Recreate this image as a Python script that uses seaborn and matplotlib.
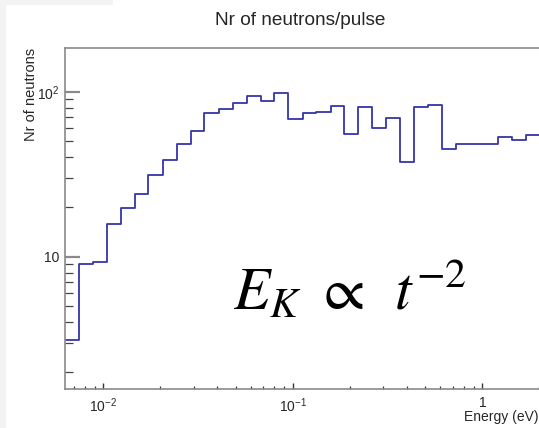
import matplotlib
matplotlib.use("Agg")
import matplotlib.pyplot as plt
import seaborn as sns
import numpy as np
import pandas as pd
from matplotlib.patches import Rectangle
from matplotlib.ticker import LogLocator, FixedLocator, NullFormatter

# ---- data ----
bin_edges_ev = [0.00628, 0.00747, 0.00886, 0.01042, 0.01236, 0.01476, 0.01728,
                0.02059, 0.02439, 0.02903, 0.03412, 0.04064, 0.04817, 0.05733,
                0.0677, 0.07985, 0.09469, 0.1128, 0.133, 0.1585, 0.187, 0.2208,
                0.2618, 0.3113, 0.3693, 0.4361, 0.517, 0.6152, 0.7293, 0.8612,
                1.017, 1.21, 1.429, 1.694, 2.04]
neutron_counts = [3.14, 9.0, 9.25, 15.8, 19.8, 23.9, 31.3, 38.7, 48.2, 57.8,
                  74.3, 78.6, 85.8, 93.8, 88.2, 97.8, 68.6, 74.0, 75.7, 81.8,
                  55.2, 81.1, 60.5, 69.3, 37.5, 81.1, 82.8, 45.0, 47.9, 47.9,
                  48.4, 52.9, 50.9, 54.7]
xtick_values = [0.01, 0.1, 1.0]
xtick_labels = [r"$10^{-2}$", r"$10^{-1}$", "1"]
ytick_values = [10, 100]
ytick_labels = ["10", r"$10^{2}$"]
title_text = "Nr of neutrons/pulse"
xlabel_text = "Energy (eV)"
ylabel_text = "Nr of neutrons"
formula_text = r"$E_K\ \propto\ \,t^{-2}$"

# ---- style ----
sns.set_style("white")
plt.rcParams["font.family"] = ["Liberation Sans", "DejaVu Sans"]
plt.rcParams["mathtext.fontset"] = "custom"
plt.rcParams["mathtext.rm"] = "Liberation Sans"
plt.rcParams["mathtext.it"] = "Liberation Sans:italic"
plt.rcParams["mathtext.bf"] = "Liberation Sans:bold"

W, H = 539, 428
fig = plt.figure(figsize=(W / 100, H / 100), dpi=100)
fig.patch.set_facecolor("white")
fig.patches.append(Rectangle((0, 0), 6 / W, 1, transform=fig.transFigure,
                             facecolor="#f3f3f3", edgecolor="none", zorder=-5))
fig.patches.append(Rectangle((0, 1 - 5 / H), 113 / W, 5 / H, transform=fig.transFigure,
                             facecolor="#f3f3f3", edgecolor="none", zorder=-5))

left_px, right_px, top_px, bot_px = 65, 541, 47.5, 389
ax = fig.add_axes([left_px / W, 1 - bot_px / H,
                   (right_px - left_px) / W, (bot_px - top_px) / H])
ax.set_facecolor("white")

df = pd.DataFrame({"energy": bin_edges_ev,
                   "count": neutron_counts + [neutron_counts[-1]]})
sns.lineplot(data=df, x="energy", y="count", ax=ax, estimator=None,
             drawstyle="steps-post", color="#3535a8", linewidth=1.3)

ax.set_xscale("log")
ax.set_yscale("log")
ax.set_xlim(bin_edges_ev[0], bin_edges_ev[-1])
ax.set_ylim(1.578, 185.4)
ax.set_xlabel("")
ax.set_ylabel("")

for side in ["left", "bottom", "top"]:
    ax.spines[side].set_visible(True)
    ax.spines[side].set_color("#8a8a8a")
    ax.spines[side].set_linewidth(1.2)
ax.spines["right"].set_visible(False)

ax.xaxis.set_major_locator(FixedLocator(xtick_values))
ax.set_xticklabels(xtick_labels)
ax.xaxis.set_minor_locator(LogLocator(base=10, subs=np.arange(2, 10)))
ax.xaxis.set_minor_formatter(NullFormatter())
ax.yaxis.set_major_locator(FixedLocator(ytick_values))
ax.set_yticklabels(ytick_labels)
ax.yaxis.set_minor_locator(LogLocator(base=10, subs=np.arange(2, 10)))
ax.yaxis.set_minor_formatter(NullFormatter())

ax.tick_params(axis="x", which="major", direction="in", length=4.3, width=1.0,
               color="#333333", labelsize=10, pad=5, bottom=True, top=False)
ax.tick_params(axis="x", which="minor", direction="in", length=2.2, width=0.9,
               color="#333333", bottom=True, top=False)
ax.tick_params(axis="y", which="major", direction="in", length=10.8, width=1.6,
               color="#8a8a8a", labelsize=10, pad=4, left=True, right=False)
ax.tick_params(axis="y", which="minor", direction="in", length=5.5, width=0.9,
               color="#444444", left=True, right=False)

fig.text(300 / W, 1 - 20.5 / H, title_text, ha="center", va="center", fontsize=13.7)
fig.text(31 / W, 1 - 47.5 / H, ylabel_text, rotation=90, ha="center", va="top",
         fontsize=10.5)
fig.text(539 / W, 1 - 421 / H, xlabel_text, ha="right", va="baseline", fontsize=10)

t = fig.text(233 / W, 1 - 310 / H, formula_text, ha="left", va="baseline",
             fontsize=43, color="black")
t.set_math_fontfamily("stix")

fig.savefig("out.png", dpi=100)
